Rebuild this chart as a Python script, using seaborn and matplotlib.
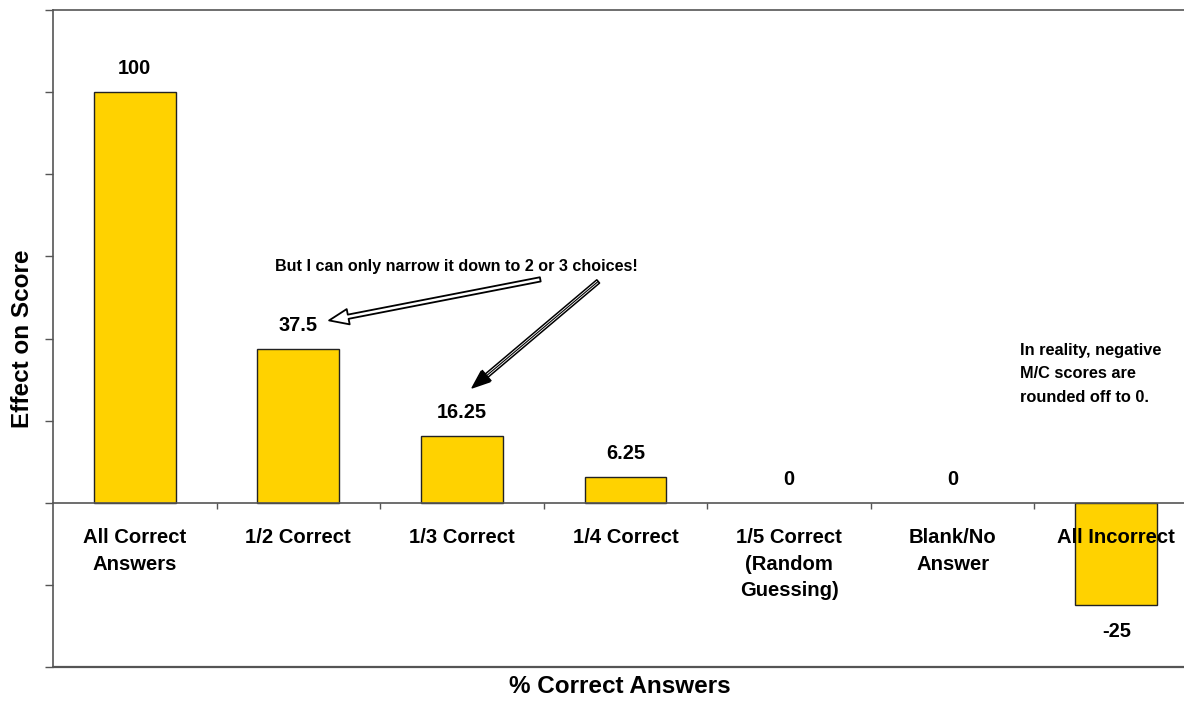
import matplotlib
matplotlib.use("Agg")
import matplotlib.pyplot as plt
import seaborn as sns
import numpy as np

# Data
categories = ["All Correct\nAnswers", "1/2 Correct", "1/3 Correct", "1/4 Correct",
              "1/5 Correct\n(Random\nGuessing)", "Blank/No\nAnswer", "All Incorrect"]
values = [100, 37.5, 16.25, 6.25, 0, 0, -25]
value_labels = ["100", "37.5", "16.25", "6.25", "0", "0", "-25"]
y_ticks = [-40, -20, 0, 20, 40, 60, 80, 100, 120]

sns.set_style("white")
plt.rcParams["font.family"] = ["Liberation Sans", "DejaVu Sans"]
plt.rcParams["font.weight"] = "bold"
plt.rcParams["text.color"] = "black"
plt.rcParams["axes.labelcolor"] = "black"
plt.rcParams["xtick.color"] = "black"
plt.rcParams["ytick.color"] = "black"

W, H = 1184, 701
fig = plt.figure(figsize=(W / 100, H / 100), dpi=100)
left, right, top, bottom = 53, 1198, 10, 667
ax = fig.add_axes([left / W, (H - bottom) / H, (right - left) / W, (bottom - top) / H])

sns.barplot(x=categories, y=values, color="#FFD200", saturation=1, width=0.5,
            edgecolor="#222222", linewidth=1.0, ax=ax)
# zero-height bars leave no outline on the baseline
for p in ax.patches:
    if p.get_height() == 0:
        p.set_linewidth(0)

ax.set_xlim(-0.5, len(categories) - 0.5)
ax.set_ylim(y_ticks[0], y_ticks[-1])
ax.set_axisbelow(False)

# Frame
spine_col = "#555555"
for s in ["left", "top", "bottom"]:
    ax.spines[s].set_color(spine_col)
    ax.spines[s].set_linewidth(1.2)
ax.spines["right"].set_visible(False)
ax.spines["bottom"].set_position(("data", 0))
ax.axhline(y_ticks[0], color=spine_col, lw=1.6, clip_on=False, zorder=3)

# Y axis: unlabeled ticks
ax.set_yticks(y_ticks)
ax.set_yticklabels([])
ax.tick_params(axis="y", direction="out", length=6, width=1, color=spine_col, left=True)

# X axis: labels at centers, ticks at category boundaries
ax.set_xticks(np.arange(len(categories)))
ax.set_xticklabels(categories, fontsize=14.6, fontweight="bold", color="black")
ax.set_xticks(np.arange(0.5, len(categories) - 1, 1), minor=True)
ax.tick_params(axis="x", which="major", length=0, pad=18)
ax.tick_params(axis="x", which="minor", direction="out", length=4, width=1,
               color=spine_col, bottom=True)
for lab in ax.get_xticklabels():
    lab.set_linespacing(1.52)

# Value labels
for i, (v, t) in enumerate(zip(values, value_labels)):
    off = 17 if v >= 0 else -19
    ax.annotate(t, xy=(i, v), xytext=(0, off), textcoords="offset points",
                ha="center", va="center", fontsize=14.4, fontweight="bold", color="black")

ax.set_ylabel("Effect on Score", fontsize=17.5, fontweight="bold", labelpad=4, color="black")
ax.set_xlabel("% Correct Answers", fontsize=17.5, fontweight="bold", va="center", color="black")
ax.xaxis.set_label_coords(0.495, -0.030)

# Callout with arrows
ax.text(1.965, 57.6, "But I can only narrow it down to 2 or 3 choices!",
        ha="center", va="center", fontsize=11.6, fontweight="bold", color="black")
ax.annotate("", xy=(1.188, 44.4), xytext=(2.479, 54.4),
            arrowprops=dict(arrowstyle="simple,head_length=1.0,head_width=0.8,tail_width=0.22",
                            fc="white", ec="black", lw=1.3, mutation_scale=14,
                            shrinkA=0, shrinkB=0))
ax.annotate("", xy=(2.063, 28.0), xytext=(2.833, 53.9),
            arrowprops=dict(arrowstyle="simple,head_length=0.9,head_width=0.7,tail_width=0.22",
                            fc="white", ec="black", lw=1.1, mutation_scale=14,
                            shrinkA=0, shrinkB=0))
ax.annotate("", xy=(2.063, 28.0), xytext=(2.833, 53.9),
            arrowprops=dict(arrowstyle="-|>,head_length=0.9,head_width=0.35",
                            fc="black", ec="black", lw=0.8, mutation_scale=14,
                            shrinkA=0, shrinkB=0))

ax.text(5.414, 38.9, "In reality, negative\nM/C scores are\nrounded off to 0.",
        ha="left", va="top", fontsize=11.8, fontweight="bold", linespacing=1.7, color="black")

fig.savefig("out.png", dpi=100)
